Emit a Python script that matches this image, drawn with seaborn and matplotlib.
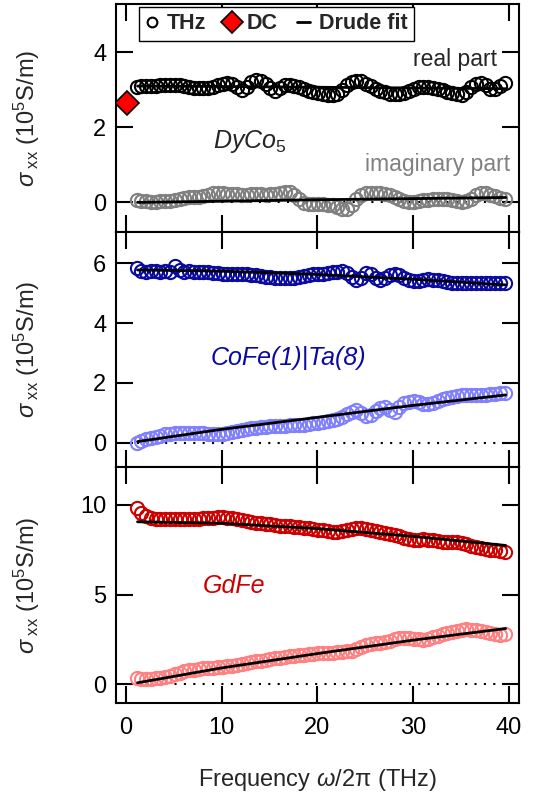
import numpy as np
import seaborn as sns
import matplotlib.pyplot as plt
from matplotlib.lines import Line2D

# measurement frequencies (THz)
freq = [1.1, 1.6, 2.1, 2.6, 3.1, 3.6, 4.1, 4.6, 5.1, 5.6,
        6.1, 6.6, 7.1, 7.6, 8.1, 8.6, 9.1, 9.6, 10.1, 10.6,
        11.1, 11.6, 12.1, 12.6, 13.1, 13.6, 14.1, 14.6, 15.1, 15.6,
        16.1, 16.6, 17.1, 17.6, 18.1, 18.6, 19.1, 19.6, 20.1, 20.6,
        21.1, 21.6, 22.1, 22.6, 23.1, 23.6, 24.1, 24.6, 25.1, 25.6,
        26.1, 26.6, 27.1, 27.6, 28.1, 28.6, 29.1, 29.6, 30.1, 30.6,
        31.1, 31.6, 32.1, 32.6, 33.1, 33.6, 34.1, 34.6, 35.1, 35.6,
        36.1, 36.6, 37.1, 37.6, 38.1, 38.6, 39.1, 39.6]

# DyCo5
dyco_re = [3.08, 3.10, 3.11, 3.10, 3.11, 3.12, 3.13, 3.14, 3.14, 3.12,
           3.10, 3.08, 3.06, 3.04, 3.04, 3.05, 3.08, 3.12, 3.15, 3.17,
           3.15, 3.07, 3.00, 3.08, 3.22, 3.26, 3.23, 3.16, 3.05, 2.98,
           3.04, 3.12, 3.13, 3.10, 3.07, 3.03, 2.98, 2.95, 2.91, 2.88,
           2.86, 2.87, 2.90, 3.00, 3.12, 3.20, 3.24, 3.23, 3.16, 3.09,
           3.02, 2.97, 2.93, 2.90, 2.88, 2.89, 2.92, 2.96, 3.02, 3.07,
           3.08, 3.07, 3.05, 3.03, 3.00, 2.95, 2.91, 2.88, 2.86, 2.93,
           3.08, 3.15, 3.17, 3.12, 3.02, 3.01, 3.10, 3.19]
dyco_im = [0.06, 0.04, 0.03, 0.02, 0.02, 0.03, 0.03, 0.04, 0.06, 0.09,
           0.12, 0.13, 0.14, 0.14, 0.16, 0.20, 0.24, 0.25, 0.24, 0.22,
           0.22, 0.21, 0.20, 0.20, 0.21, 0.22, 0.21, 0.20, 0.21, 0.22,
           0.25, 0.28, 0.27, 0.20, 0.10, -0.02, -0.05, -0.05, -0.04, -0.05,
           -0.07, -0.08, -0.12, -0.18, -0.17, -0.06, 0.10, 0.20, 0.24, 0.26,
           0.26, 0.25, 0.23, 0.19, 0.14, 0.08, 0.04, 0.02, 0.02, 0.03,
           0.05, 0.07, 0.08, 0.08, 0.08, 0.09, 0.07, 0.04, 0.02, 0.03,
           0.10, 0.20, 0.26, 0.24, 0.20, 0.16, 0.12, 0.10]

# CoFe(1)|Ta(8)
cofe_re = [5.83, 5.75, 5.72, 5.76, 5.74, 5.71, 5.75, 5.72, 5.90, 5.78,
           5.72, 5.73, 5.72, 5.71, 5.71, 5.70, 5.68, 5.67, 5.66, 5.66,
           5.65, 5.65, 5.64, 5.63, 5.62, 5.60, 5.58, 5.56, 5.54, 5.52,
           5.51, 5.50, 5.50, 5.51, 5.54, 5.58, 5.62, 5.64, 5.65, 5.66,
           5.68, 5.70, 5.72, 5.74, 5.68, 5.55, 5.46, 5.50, 5.68, 5.66,
           5.52, 5.45, 5.50, 5.60, 5.66, 5.62, 5.52, 5.44, 5.42, 5.42,
           5.45, 5.47, 5.46, 5.44, 5.40, 5.37, 5.36, 5.36, 5.35, 5.35,
           5.34, 5.33, 5.33, 5.33, 5.33, 5.33, 5.34, 5.36]
cofe_im = [0.00, 0.06, 0.12, 0.16, 0.20, 0.24, 0.28, 0.30, 0.32, 0.33,
           0.34, 0.34, 0.34, 0.33, 0.32, 0.31, 0.30, 0.30, 0.31, 0.33,
           0.36, 0.39, 0.42, 0.45, 0.48, 0.51, 0.53, 0.54, 0.55, 0.55,
           0.56, 0.57, 0.58, 0.59, 0.60, 0.61, 0.63, 0.65, 0.67, 0.70,
           0.73, 0.76, 0.80, 0.86, 0.95, 1.04, 1.08, 0.98, 0.89, 0.92,
           1.05, 1.18, 1.20, 1.10, 1.04, 1.20, 1.32, 1.36, 1.40, 1.38,
           1.30, 1.29, 1.33, 1.40, 1.46, 1.50, 1.54, 1.57, 1.59, 1.60,
           1.60, 1.60, 1.60, 1.61, 1.62, 1.64, 1.65, 1.67]

# GdFe
gdfe_re = [9.81, 9.57, 9.40, 9.30, 9.24, 9.21, 9.20, 9.20, 9.20, 9.20,
           9.20, 9.21, 9.22, 9.24, 9.26, 9.28, 9.30, 9.31, 9.31, 9.29,
           9.25, 9.20, 9.15, 9.08, 9.03, 9.00, 8.98, 8.95, 8.92, 8.88,
           8.85, 8.83, 8.80, 8.77, 8.75, 8.72, 8.69, 8.66, 8.63, 8.60,
           8.55, 8.51, 8.50, 8.52, 8.60, 8.68, 8.72, 8.74, 8.68, 8.60,
           8.53, 8.48, 8.45, 8.40, 8.34, 8.26, 8.16, 8.08, 8.06, 8.07,
           8.08, 8.06, 8.03, 7.99, 7.96, 7.95, 7.94, 7.91, 7.87, 7.80,
           7.71, 7.67, 7.62, 7.56, 7.51, 7.47, 7.44, 7.39]
gdfe_im = [0.32, 0.28, 0.26, 0.28, 0.32, 0.35, 0.40, 0.45, 0.55, 0.64,
           0.72, 0.76, 0.80, 0.84, 0.87, 0.89, 0.92, 0.94, 0.96, 0.99,
           1.03, 1.08, 1.12, 1.16, 1.21, 1.26, 1.31, 1.35, 1.39, 1.43,
           1.47, 1.51, 1.54, 1.58, 1.61, 1.64, 1.67, 1.70, 1.71, 1.72,
           1.74, 1.75, 1.77, 1.79, 1.82, 1.86, 1.95, 2.08, 2.18, 2.24,
           2.28, 2.32, 2.36, 2.42, 2.50, 2.55, 2.56, 2.55, 2.54, 2.50,
           2.46, 2.52, 2.60, 2.68, 2.78, 2.86, 2.93, 2.99, 3.04, 3.05,
           3.03, 3.02, 2.98, 2.90, 2.83, 2.78, 2.74, 2.82]

# Drude fits
fit_freq = [1.2, 10, 20, 30, 39.7]
dyco_re_fit = [3.10, 3.09, 3.07, 3.05, 3.03]
dyco_im_fit = [0.00, 0.03, 0.07, 0.10, 0.13]
cofe_re_fit = [5.78, 5.74, 5.63, 5.47, 5.28]
cofe_im_fit = [0.04, 0.45, 0.85, 1.25, 1.60]
gdfe_re_fit = [9.06, 8.98, 8.68, 8.25, 7.74]
gdfe_im_fit = [0.07, 0.90, 1.70, 2.45, 3.10]

# DC value for DyCo5
dc_freq = [0.1]
dc_value = [2.65]

zero_x = [1.1, 39.8]
zero_y = [0, 0]

sns.set_theme(style='ticks')
plt.rcParams['font.family'] = ['Liberation Sans', 'DejaVu Sans']
plt.rcParams.update({
    'mathtext.fontset': 'custom',
    'mathtext.rm': 'Liberation Sans',
    'mathtext.it': 'Liberation Sans:italic',
    'mathtext.bf': 'Liberation Sans:bold',
    'axes.linewidth': 1.5,
    'axes.edgecolor': 'black',
})

fig, axes = plt.subplots(3, 1, figsize=(5.42, 7.96), dpi=100, sharex=True,
                         gridspec_kw=dict(height_ratios=[228, 235, 236], hspace=0))
fig.subplots_adjust(left=0.214, right=0.9576, top=0.995, bottom=0.1168)

panels = [
    (dyco_re, dyco_im, dyco_re_fit, dyco_im_fit, 'black', '#808080', (-0.79, 5.29), [0, 2, 4]),
    (cofe_re, cofe_im, cofe_re_fit, cofe_im_fit, '#0a0aa0', '#8080ff', (-0.81, 7.05), [0, 2, 4, 6]),
    (gdfe_re, gdfe_im, gdfe_re_fit, gdfe_im_fit, '#cc0000', '#ff8080', (-1.06, 12.12), [0, 5, 10]),
]

for ax, (re, im, re_fit, im_fit, c_re, c_im, ylim, yticks) in zip(axes, panels):
    ax.plot(zero_x, zero_y, color='black', lw=1.5, linestyle=(0, (1, 3.5)), zorder=1)
    for vals, col in [(im, c_im), (re, c_re)]:
        sns.lineplot(x=freq, y=vals, ax=ax, marker='o', linestyle='', markersize=9.5,
                     markerfacecolor='none', markeredgecolor=col, markeredgewidth=1.5,
                     zorder=2)
    for vals in [re_fit, im_fit]:
        sns.lineplot(x=fit_freq, y=vals, ax=ax, color='black', lw=2, zorder=3)
    ax.set_ylim(*ylim)
    ax.set_yticks(yticks)
    ax.set_xlim(-1.05, 41.1)
    ax.set_xticks([0, 10, 20, 30, 40])
    ax.tick_params(direction='in', length=12, width=1.5, top=True, right=True,
                   labelsize=17, colors='black', pad=7)
    ax.tick_params(axis='x', pad=10)
    ax.set_ylabel(r'$\sigma_{\rm\ xx}$ (10$^5$S/m)', fontsize=17)
    ax.yaxis.set_label_coords(-0.184, 0.5)
    for sp in ax.spines.values():
        sp.set_linewidth(1.5)
        sp.set_color('black')

# DC point
sns.lineplot(x=dc_freq, y=dc_value, ax=axes[0], marker='D', linestyle='', markersize=12,
             markerfacecolor='red', markeredgecolor='black', markeredgewidth=1.2, zorder=4)

axes[0].text(38.8, 3.64, 'real part', fontsize=16.5, ha='right', va='baseline')
axes[0].text(40.2, 0.84, 'imaginary part', fontsize=16.5, color='#808080', ha='right', va='baseline')
axes[0].text(9.1, 1.44, r'$\mathit{DyCo_5}$', fontsize=18, ha='left', va='baseline')
axes[1].text(8.86, 2.6, 'CoFe(1)|Ta(8)', fontsize=18, style='italic', color='#0a0aa0',
             ha='left', va='baseline')
axes[2].text(8.05, 5.07, 'GdFe', fontsize=18, style='italic', color='#cc0000',
             ha='left', va='baseline')

axes[2].set_xlabel(r'Frequency $\omega$/2π (THz)', fontsize=17, labelpad=20)

handles = [
    Line2D([], [], marker='o', linestyle='', markersize=7, markerfacecolor='none',
           markeredgecolor='black', markeredgewidth=1.5),
    Line2D([], [], marker='D', linestyle='', markersize=11, markerfacecolor='red',
           markeredgecolor='black', markeredgewidth=1.2),
    Line2D([], [], color='black', lw=2),
]
leg = axes[0].legend(handles, ['THz', 'DC', 'Drude fit'], loc='upper center',
                     bbox_to_anchor=(0.398, 0.987), borderaxespad=0, ncol=3,
                     handlelength=0.6, handletextpad=0.4, columnspacing=0.9,
                     frameon=True, fancybox=False, framealpha=1, borderpad=0.3,
                     prop={'weight': 'bold', 'size': 15.5})
leg.get_frame().set_edgecolor('black')
leg.get_frame().set_linewidth(1.0)

plt.savefig('out.png', dpi=100)
